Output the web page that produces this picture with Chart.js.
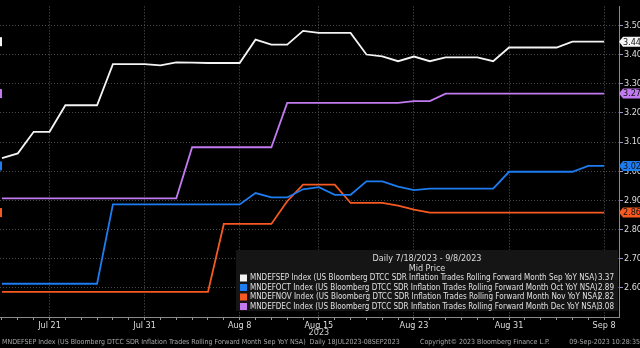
<!DOCTYPE html>
<html>
<head>
<meta charset="utf-8">
<script src="https://cdn.jsdelivr.net/npm/chart.js@4"></script>
<style>
  html, body { margin: 0; padding: 0; background: #000; }
  canvas { display: block; }
</style>
</head>
<body>
<canvas id="chart" width="640" height="348"></canvas>
<script>
// business days, 18 Jul - 8 Sep 2023
const days = ['Jul 18', 'Jul 19', 'Jul 20', 'Jul 21', 'Jul 24', 'Jul 25', 'Jul 26', 'Jul 27', 'Jul 28',
    'Jul 31', 'Aug 1', 'Aug 2', 'Aug 3', 'Aug 4', 'Aug 7', 'Aug 8', 'Aug 9', 'Aug 10', 'Aug 11',
    'Aug 14', 'Aug 15', 'Aug 16', 'Aug 17', 'Aug 18', 'Aug 21', 'Aug 22', 'Aug 23', 'Aug 24', 'Aug 25',
    'Aug 28', 'Aug 29', 'Aug 30', 'Aug 31', 'Sep 1', 'Sep 4', 'Sep 5', 'Sep 6', 'Sep 7', 'Sep 8'];
const majorDays = ['Jul 21', 'Jul 31', 'Aug 8', 'Aug 15', 'Aug 23', 'Aug 31', 'Sep 8'];
const yTicks = [2.6, 2.7, 2.8, 2.9, 3.0, 3.1, 3.2, 3.3, 3.4, 3.5];

const sepVals = [3.045, 3.061, 3.135, 3.135, 3.226, 3.226, 3.226, 3.367, 3.367, 3.367,
    3.363, 3.373, 3.372, 3.371, 3.371, 3.371, 3.451, 3.434, 3.434, 3.481,
    3.474, 3.474, 3.474, 3.400, 3.394, 3.377, 3.393, 3.377, 3.390, 3.390,
    3.390, 3.377, 3.424, 3.424, 3.424, 3.424, 3.444, 3.444, 3.444];
const octVals = [2.614, 2.614, 2.614, 2.614, 2.614, 2.614, 2.614, 2.886, 2.886, 2.886,
    2.886, 2.886, 2.886, 2.886, 2.886, 2.886, 2.925, 2.910, 2.910, 2.938,
    2.945, 2.919, 2.919, 2.965, 2.965, 2.947, 2.935, 2.940, 2.940, 2.940,
    2.940, 2.940, 2.998, 2.998, 2.998, 2.998, 2.998, 3.018, 3.018];
const novVals = [2.586, 2.586, 2.586, 2.586, 2.586, 2.586, 2.586, 2.586, 2.586, 2.586,
    2.586, 2.586, 2.586, 2.586, 2.819, 2.819, 2.819, 2.819, 2.897, 2.954,
    2.954, 2.954, 2.891, 2.891, 2.891, 2.882, 2.868, 2.858, 2.858, 2.858,
    2.858, 2.858, 2.858, 2.858, 2.858, 2.858, 2.858, 2.858, 2.858];
const decVals = [2.907, 2.907, 2.907, 2.907, 2.907, 2.907, 2.907, 2.907, 2.907, 2.907,
    2.907, 2.907, 3.082, 3.082, 3.082, 3.082, 3.082, 3.082, 3.234, 3.234,
    3.234, 3.234, 3.234, 3.234, 3.234, 3.234, 3.240, 3.240, 3.266, 3.266,
    3.266, 3.266, 3.266, 3.266, 3.266, 3.266, 3.266, 3.266, 3.266];

const seriesNames = [
    'MNDEFSEP Index (US Bloomberg DTCC SDR Inflation Trades Rolling Forward Month Sep YoY NSA)',
    'MNDEFOCT Index (US Bloomberg DTCC SDR Inflation Trades Rolling Forward Month Oct YoY NSA)',
    'MNDEFNOV Index (US Bloomberg DTCC SDR Inflation Trades Rolling Forward Month Nov YoY NSA)',
    'MNDEFDEC Index (US Bloomberg DTCC SDR Inflation Trades Rolling Forward Month Dec YoY NSA)'
];
const legendVals = ['3.37', '2.89', '2.82', '3.08'];
const colors = ['#f4f4f4', '#1c7cf0', '#f65a22', '#c27af0'];

const FONT = "'Liberation Sans Narrow', 'DejaVu Sans Condensed', 'Arial Narrow', sans-serif";
Chart.defaults.font.family = FONT;

const toPoints = vals => vals.map((v, i) => ({ x: i, y: v }));
const isMajor = i => majorDays.includes(days[i]);

// legend box, value tags and footer, Bloomberg style
const bbgPlugin = {
    id: 'bbg',
    afterDraw(chart) {
        const { ctx, chartArea: a, scales: { x, y } } = chart;
        const all = [sepVals, octVals, novVals, decVals];
        ctx.save();

        // legend box
        ctx.fillStyle = 'rgba(22,22,22,0.96)';
        ctx.fillRect(236, 250, a.right - 237, 61);
        ctx.fillStyle = '#dcdcdc';
        ctx.font = '9px ' + FONT;
        ctx.textAlign = 'center';
        ctx.textBaseline = 'middle';
        ctx.fillText('Daily 7/18/2023 - 9/8/2023', 427, 259);
        ctx.fillText('Mid Price', 427, 269);
        ctx.font = '8px ' + FONT;
        seriesNames.forEach((name, i) => {
            const cy = 278 + i * 9.5;
            ctx.fillStyle = colors[i];
            ctx.fillRect(240, cy - 3.5, 7, 7);
            ctx.fillStyle = '#e0e0e0';
            ctx.textAlign = 'left';
            ctx.fillText(name, 250, cy);
            ctx.textAlign = 'right';
            ctx.fillText(legendVals[i], 614, cy);
        });

        // last value tags on the right and stubs on the left
        ctx.font = '9px ' + FONT;
        ctx.textAlign = 'left';
        all.forEach((vals, i) => {
            const last = vals[vals.length - 1];
            const py = y.getPixelForValue(last);
            ctx.fillStyle = colors[i];
            ctx.beginPath();
            ctx.moveTo(a.right, py);
            ctx.lineTo(a.right + 4, py - 5);
            ctx.lineTo(640, py - 5);
            ctx.lineTo(640, py + 5);
            ctx.lineTo(a.right + 4, py + 5);
            ctx.closePath();
            ctx.fill();
            ctx.fillRect(0, py - 4.5, 2, 9);
            ctx.fillStyle = '#111';
            ctx.fillText(last.toFixed(2), a.right + 4, py + 0.5);
        });

        // year under the axis and footer line
        ctx.fillStyle = '#cccccc';
        ctx.textAlign = 'center';
        ctx.fillText('2023', x.getPixelForValue(days.indexOf('Aug 15')), 333);
        ctx.font = '7px ' + FONT;
        ctx.fillStyle = '#a8a8a8';
        ctx.textAlign = 'left';
        ctx.fillText('MNDEFSEP Index (US Bloomberg DTCC SDR Inflation Trades Rolling Forward Month Sep YoY NSA)  Daily 18JUL2023-08SEP2023', 2, 342);
        ctx.fillText('Copyright\u00a9 2023 Bloomberg Finance L.P.', 420, 342);
        ctx.textAlign = 'right';
        ctx.fillText('09-Sep-2023 10:28:35', 640, 342);
        ctx.restore();
    }
};

new Chart(document.getElementById('chart'), {
    type: 'line',
    data: {
        datasets: [sepVals, octVals, novVals, decVals].map((vals, i) => ({
            label: seriesNames[i],
            data: toPoints(vals),
            borderColor: colors[i],
            borderWidth: 1.8,
            pointRadius: 0,
            tension: 0
        }))
    },
    options: {
        responsive: false,
        animation: false,
        devicePixelRatio: 1,
        layout: { padding: 0 },
        plugins: {
            legend: { display: false },
            tooltip: { enabled: false }
        },
        scales: {
            x: {
                type: 'linear',
                min: -0.126,
                max: 38.94,
                afterBuildTicks: scale => { scale.ticks = days.map((d, i) => ({ value: i })); },
                afterFit: scale => { scale.height = 31; },
                ticks: {
                    autoSkip: false,
                    maxRotation: 0,
                    padding: 0,
                    color: '#dddddd',
                    font: { size: 9 },
                    callback: v => (isMajor(v) ? days[v] : '')
                },
                grid: {
                    color: c => (c.tick && isMajor(c.tick.value) ? '#5a5a5a' : 'transparent'),
                    tickColor: '#9a9a9a',
                    tickLength: 3
                },
                border: { color: '#8a8a8a', dash: [1, 2] }
            },
            y: {
                position: 'right',
                min: 2.5,
                max: 3.565,
                afterBuildTicks: scale => { scale.ticks = yTicks.map(v => ({ value: v })); },
                afterFit: scale => { scale.width = 21; },
                ticks: {
                    padding: 1,
                    color: '#dddddd',
                    font: { size: 9 },
                    callback: v => v.toFixed(2)
                },
                grid: {
                    color: '#4a4a4a',
                    tickColor: '#a58fcc',
                    tickLength: 4
                },
                border: { color: '#a070d8', dash: [1, 2] }
            }
        }
    },
    plugins: [bbgPlugin]
});
</script>
</body>
</html>
